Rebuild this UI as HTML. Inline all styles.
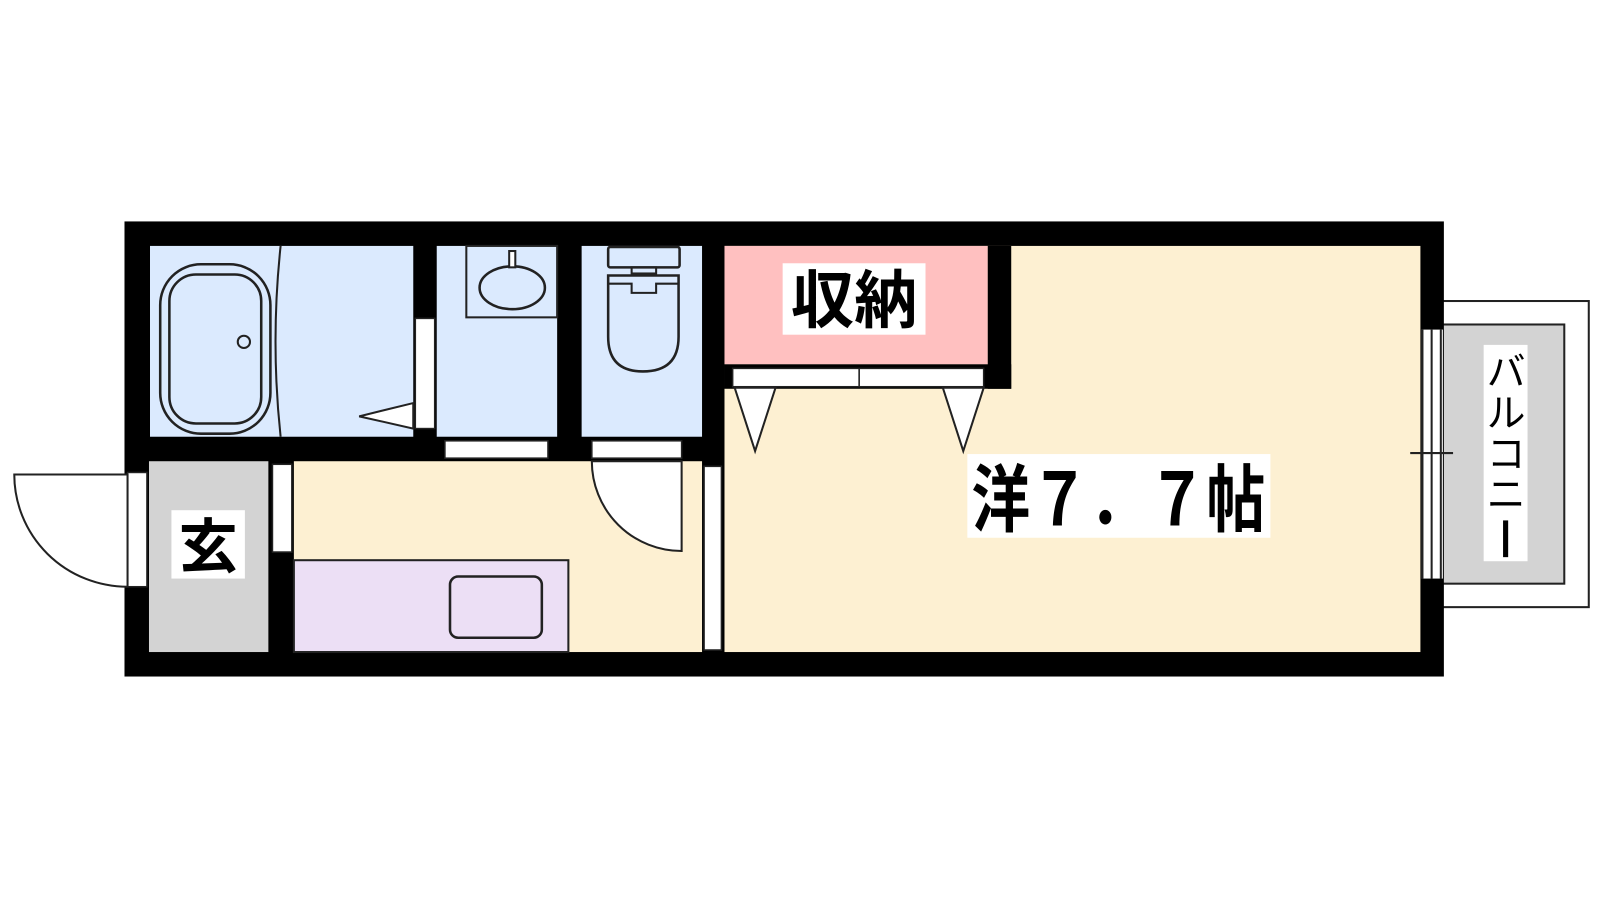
<!DOCTYPE html>
<html><head><meta charset="utf-8"><style>
html,body{margin:0;padding:0;background:#fff;}
svg{display:block;}
text{font-family:"Liberation Sans","Noto Sans CJK JP",sans-serif;}
</style></head><body>
<svg width="1600" height="900" viewBox="0 0 1568 882" preserveAspectRatio="none" xmlns="http://www.w3.org/2000/svg">
<!-- balcony -->
<rect x="1405" y="295" width="152" height="300" fill="#fff" stroke="#222" stroke-width="2"/>
<rect x="1405" y="318" width="128" height="254" fill="#d3d3d3" stroke="#222" stroke-width="2"/>
<!-- outer wall -->
<rect x="122" y="217" width="1293" height="446" fill="#000"/>
<!-- rooms -->
<rect x="147" y="241" width="258" height="187" fill="#dbeafe"/>
<rect x="428" y="241" width="118" height="187" fill="#dbeafe"/>
<rect x="570" y="241" width="118" height="187" fill="#dbeafe"/>
<rect x="710" y="241" width="682" height="398" fill="#fdf0d2"/>
<rect x="710" y="241" width="258" height="116" fill="#ffc0c0"/>
<rect x="968" y="241" width="23" height="140" fill="#000"/>
<rect x="710" y="357" width="281" height="24" fill="#000"/>
<rect x="146" y="452" width="117" height="187" fill="#d3d3d3"/>
<rect x="288" y="452" width="400" height="187" fill="#fdf0d2"/>
<rect x="288" y="549" width="269" height="90" fill="#ecdff5" stroke="#222" stroke-width="2"/>
<rect x="441" y="565" width="90" height="60" rx="8" fill="none" stroke="#222" stroke-width="2.5"/>
<!-- bathtub -->
<path d="M275 241 Q265 335 275 428" fill="none" stroke="#222" stroke-width="2"/>
<rect x="157" y="259" width="108" height="166" rx="40" fill="none" stroke="#222" stroke-width="2.5"/>
<rect x="166" y="269" width="90" height="146" rx="26" fill="none" stroke="#222" stroke-width="2.5"/>
<circle cx="239" cy="335" r="6" fill="none" stroke="#222" stroke-width="2"/>
<polygon points="405,395 352,408 405,420" fill="#fff" stroke="#222" stroke-width="2"/>
<!-- sink -->
<rect x="457" y="241" width="89" height="70" fill="none" stroke="#222" stroke-width="2"/>
<ellipse cx="502" cy="282" rx="32" ry="21" fill="none" stroke="#222" stroke-width="2.5"/>
<rect x="499" y="246" width="6" height="16" fill="#fff" stroke="#222" stroke-width="2"/>
<!-- toilet -->
<rect x="596" y="242" width="70" height="20" rx="2" fill="none" stroke="#222" stroke-width="2.5"/>
<rect x="619" y="262" width="24" height="6" fill="none" stroke="#222" stroke-width="2"/>
<path d="M596 270 H665 V330 Q665 364 630 364 Q596 364 596 330 Z" fill="none" stroke="#222" stroke-width="2.5"/>
<path d="M596 278 H619 V287 H643 V278 H665" fill="none" stroke="#222" stroke-width="2"/>
<!-- doors -->
<rect x="407" y="312" width="19" height="108" fill="#fff" stroke="#222" stroke-width="1.5"/>
<rect x="436" y="432" width="101" height="17" fill="#fff" stroke="#222" stroke-width="1.5"/>
<rect x="580" y="432" width="88" height="17" fill="#fff" stroke="#222" stroke-width="1.5"/>
<path d="M580 452 A88 88 0 0 0 668 540 L668 452 Z" fill="#fff" stroke="#222" stroke-width="2"/>
<rect x="690" y="457" width="17" height="180" fill="#fff" stroke="#222" stroke-width="1.5"/>
<rect x="267" y="455" width="19" height="86" fill="#fff" stroke="#222" stroke-width="1.5"/>
<rect x="125" y="463" width="19" height="112" fill="#fff" stroke="#222" stroke-width="1.5"/>
<path d="M14 465 H125 V575 A111 110 0 0 1 14 465 Z" fill="#fff" stroke="#222" stroke-width="2"/>
<!-- closet doors -->
<rect x="718" y="361" width="124" height="18" fill="#fff" stroke="#222" stroke-width="1.5"/>
<rect x="842" y="361" width="122" height="18" fill="#fff" stroke="#222" stroke-width="1.5"/>
<polygon points="720,380 760,380 740,442" fill="#fff" stroke="#222" stroke-width="2"/>
<polygon points="924,380 964,380 944,442" fill="#fff" stroke="#222" stroke-width="2"/>
<!-- balcony window -->
<rect x="1393" y="323" width="21" height="244" fill="#fff"/>
<line x1="1394" y1="323" x2="1394" y2="567" stroke="#222" stroke-width="2"/>
<line x1="1403" y1="323" x2="1403" y2="567" stroke="#222" stroke-width="2"/>
<line x1="1412" y1="323" x2="1412" y2="567" stroke="#222" stroke-width="2"/>
<line x1="1382" y1="444" x2="1424" y2="444" stroke="#222" stroke-width="2"/>
<!-- labels -->
<rect x="767" y="258" width="140" height="70" fill="#fff"/>
<text x="837" y="316" font-size="62" font-weight="bold" text-anchor="middle">収納</text>
<rect x="948" y="445" width="297" height="82" fill="#fff"/>
<text x="952" y="515" font-size="72" font-weight="bold" textLength="288" lengthAdjust="spacingAndGlyphs">洋７．７帖</text>
<rect x="168" y="500" width="72" height="67" fill="#fff"/>
<text x="204" y="556" font-size="58" font-weight="bold" text-anchor="middle">玄</text>
<rect x="1454" y="338" width="43" height="212" fill="#fff"/>
<text font-size="38" text-anchor="middle" x="1476" y="378">バ</text>
<text font-size="38" text-anchor="middle" x="1476" y="418">ル</text>
<text font-size="38" text-anchor="middle" x="1476" y="458">コ</text>
<text font-size="38" text-anchor="middle" x="1476" y="498">ニ</text>
<rect x="1473" y="510" width="5" height="36" fill="#000"/>
</svg>
</body></html>
